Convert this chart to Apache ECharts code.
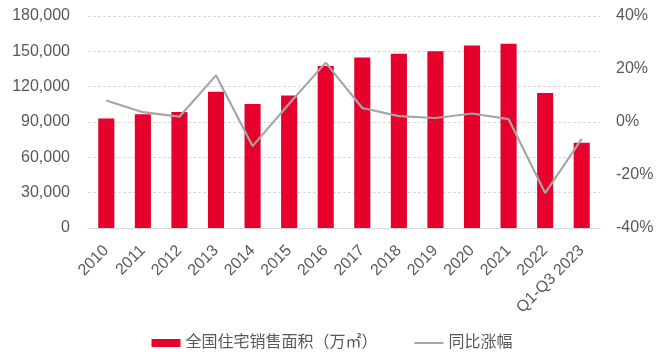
<!DOCTYPE html>
<html><head><meta charset="utf-8">
<script src="https://cdn.jsdelivr.net/npm/echarts@6/dist/echarts.min.js"></script>
<style>html,body{margin:0;padding:0;background:#fff}#c{width:664px;height:363px}</style>
</head><body><div id="c"></div>
<script>
const categories = ['2010','2011','2012','2013','2014','2015','2016','2017','2018','2019','2020','2021','2022','Q1-Q3 2023'];
const salesArea = [93052, 96528, 98468, 115723, 105188, 112412, 137540, 144789, 147929, 150144, 154878, 156532, 114631, 72422];
const yoyGrowth = [8.1, 3.7, 2.0, 17.6, -9.1, 6.9, 22.4, 5.3, 2.2, 1.5, 3.2, 1.1, -26.8, -6.4];
const seriesNames = ['全国住宅销售面积（万㎡）', '同比涨幅'];

const font = 'Liberation Sans, Arial, Noto Sans CJK SC, sans-serif';
const chart = echarts.init(document.getElementById('c'));
chart.setOption({
  animation: false,
  textStyle: { fontFamily: font },
  grid: { left: 88, right: 64, top: 16, bottom: 135 },
  legend: {
    bottom: 7, left: 'center', itemWidth: 29, itemHeight: 8, itemGap: 36,
    textStyle: { fontSize: 16, color: '#595959', fontFamily: font },
    data: [
      { name: seriesNames[0], icon: 'rect' },
      { name: seriesNames[1], itemStyle: { opacity: 0 }, lineStyle: { color: '#A6A6A6', width: 2 } }
    ]
  },
  xAxis: {
    type: 'category', data: categories,
    axisLine: { lineStyle: { color: '#D9D9D9' } },
    axisTick: { show: false },
    axisLabel: { rotate: 45, fontSize: 16, color: '#595959', interval: 0, margin: 20 }
  },
  yAxis: [
    { type: 'value', min: 0, max: 180000, interval: 30000,
      axisLabel: { fontSize: 16, color: '#595959', margin: 18,
        formatter: v => v.toLocaleString('en-US') },
      splitLine: { lineStyle: { color: '#D9D9D9', type: [3, 2] } },
      axisLine: { show: false }, axisTick: { show: false } },
    { type: 'value', min: -40, max: 40, interval: 20,
      axisLabel: { fontSize: 16, color: '#595959', margin: 16, formatter: '{value}%' },
      splitLine: { show: false }, axisLine: { show: false }, axisTick: { show: false } }
  ],
  series: [
    { name: seriesNames[0], type: 'bar', data: salesArea, barWidth: '44%',
      itemStyle: { color: '#E6002B' } },
    { name: seriesNames[1], type: 'line', yAxisIndex: 1, data: yoyGrowth,
      symbol: 'none', lineStyle: { color: '#A6A6A6', width: 2.2 }, itemStyle: { color: '#A6A6A6' } }
  ]
});
</script></body></html>
